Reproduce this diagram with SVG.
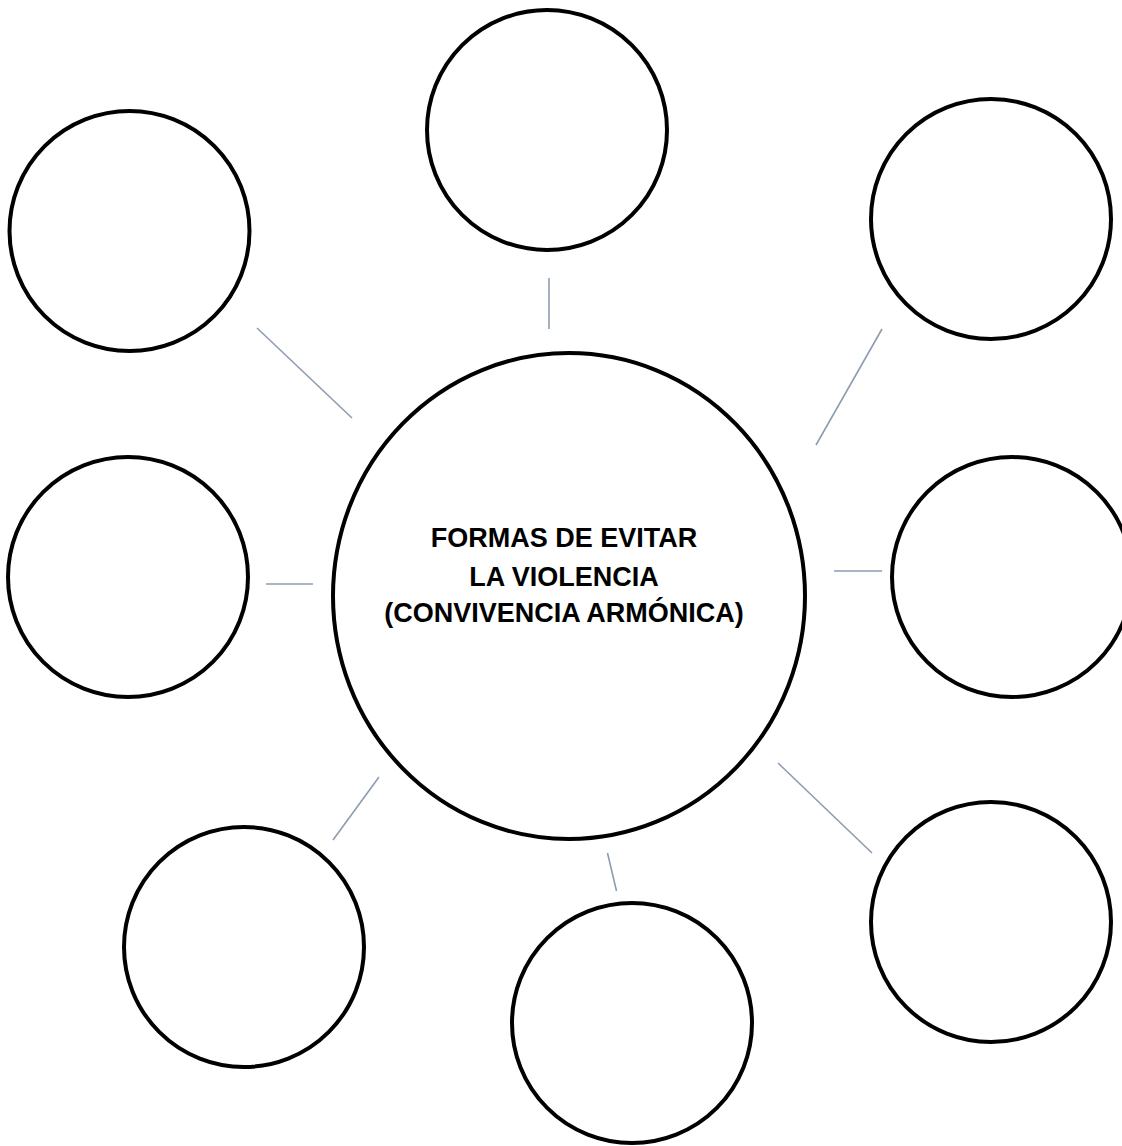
<svg xmlns="http://www.w3.org/2000/svg" width="1122" height="1146" viewBox="0 0 1122 1146">
  <style>
    .node { fill: #ffffff; stroke: #000000; stroke-width: 4; }
    .conn { stroke: #8d9db0; stroke-width: 1.6; fill: none; }
    .label { font-family: "Liberation Sans", Arial, sans-serif; font-weight: bold; font-size: 27px; fill: #000000; text-anchor: middle; }
  </style>
  <rect x="0" y="0" width="1122" height="1146" fill="#ffffff"/>
  <g id="connectors">
    <line class="conn" x1="549" y1="278" x2="549" y2="329"/>
    <line class="conn" x1="257" y1="328" x2="352" y2="418"/>
    <line class="conn" x1="882" y1="329" x2="816" y2="445"/>
    <line class="conn" x1="266" y1="584" x2="313" y2="584"/>
    <line class="conn" x1="834" y1="571" x2="882" y2="571"/>
    <line class="conn" x1="379" y1="777" x2="333" y2="840"/>
    <line class="conn" x1="607.5" y1="853" x2="616.5" y2="891"/>
    <line class="conn" x1="778" y1="763" x2="872" y2="853"/>
  </g>
  <g id="center">
    <ellipse class="node" cx="569" cy="596" rx="236" ry="243"/>
    <text class="label" x="564" y="547">FORMAS DE EVITAR</text>
    <text class="label" x="564" y="586">LA VIOLENCIA</text>
    <text class="label" x="564" y="622">(CONVIVENCIA ARMÓNICA)</text>
  </g>
  <g id="top"><circle class="node" cx="547" cy="130" r="120"/></g>
  <g id="top-left"><circle class="node" cx="129.5" cy="231" r="120"/></g>
  <g id="top-right"><circle class="node" cx="991" cy="219" r="120"/></g>
  <g id="left"><circle class="node" cx="128" cy="577" r="120"/></g>
  <g id="right"><circle class="node" cx="1012" cy="577" r="120"/></g>
  <g id="bottom-left"><circle class="node" cx="244" cy="947" r="120"/></g>
  <g id="bottom"><circle class="node" cx="632" cy="1023" r="120"/></g>
  <g id="bottom-right"><circle class="node" cx="991" cy="922" r="120"/></g>
</svg>
